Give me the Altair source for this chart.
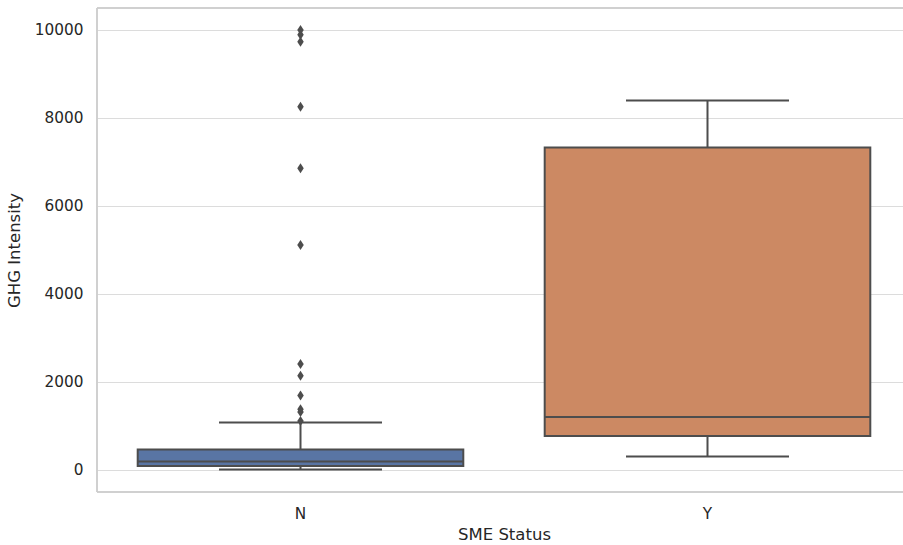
import altair as alt
import pandas as pd

categories = ["N", "Y"]
box_colors = ["#5975a4", "#cc8963"]
q1 = [80, 760]
median = [180, 1195]
q3 = [455, 7320]
whisker_low = [0, 295]
whisker_high = [1070, 8385]

outlier_values_N = [9990, 9880, 9720, 8245, 6845, 5102, 2398, 2130, 1680, 1370, 1310, 1100]

stats = pd.DataFrame({
    "SME Status": categories,
    "q1": q1, "median": median, "q3": q3,
    "lo": whisker_low, "hi": whisker_high,
})
outliers = pd.DataFrame({
    "SME Status": ["N"] * len(outlier_values_N),
    "value": outlier_values_N,
})

line_color = "#4d4d4d"
frame_color = "#cccccc"
font = "DejaVu Sans"
W, H = 806, 484

x_enc = alt.X("SME Status:N", sort=categories, title="SME Status",
              scale=alt.Scale(paddingInner=0, paddingOuter=0, range=[0, 814]),
              axis=alt.Axis(labelAngle=0, ticks=False, domain=False, grid=False,
                            labelPadding=14, titlePadding=5))
y_scale = alt.Scale(domain=[-511, 10489], nice=False, zero=False)
y_axis = alt.Axis(values=[0, 2000, 4000, 6000, 8000, 10000], ticks=False, domain=False,
                  grid=True, gridColor="#dcdcdc", gridWidth=1.2, labelPadding=14,
                  titlePadding=12, format="d")

base = alt.Chart(stats)

whisk = base.mark_rule(color=line_color, strokeWidth=2).encode(
    x=x_enc,
    y=alt.Y("lo:Q", scale=y_scale, axis=y_axis, title="GHG Intensity"),
    y2="hi:Q",
)
caps_hi = base.mark_tick(color=line_color, size=163, thickness=2, opacity=1).encode(
    x=x_enc, y=alt.Y("hi:Q", scale=y_scale))
caps_lo = base.mark_tick(color=line_color, size=163, thickness=2, opacity=1).encode(
    x=x_enc, y=alt.Y("lo:Q", scale=y_scale))
box = base.mark_bar(width={"band": 0.8}, stroke=line_color, strokeWidth=2, opacity=1).encode(
    x=x_enc,
    y=alt.Y("q1:Q", scale=y_scale),
    y2="q3:Q",
    color=alt.Color("SME Status:N", scale=alt.Scale(domain=categories, range=box_colors), legend=None),
)
med = base.mark_tick(color=line_color, size=325, thickness=2, opacity=1).encode(
    x=x_enc, y=alt.Y("median:Q", scale=y_scale))
pts = alt.Chart(outliers).mark_point(
    shape="M0,-1L0.65,0L0,1L-0.65,0Z", filled=True, color=line_color, size=100, opacity=1
).encode(x=x_enc, y=alt.Y("value:Q", scale=y_scale))

frame_left = base.mark_rule(color=frame_color, strokeWidth=1.5).encode(
    x=alt.value(0), y=alt.value(0), y2=alt.value(H))
frame_top = base.mark_rule(color=frame_color, strokeWidth=1.5).encode(
    x=alt.value(0), x2=alt.value(W), y=alt.value(0))
frame_bottom = base.mark_rule(color=frame_color, strokeWidth=1.5).encode(
    x=alt.value(0), x2=alt.value(W), y=alt.value(H))

chart = alt.layer(frame_left, frame_top, frame_bottom, whisk, caps_hi, caps_lo, box, med, pts).properties(
    width=W, height=H,
    autosize="none",
    padding={"left": 97, "top": 8, "right": 0, "bottom": 53},
    background="white",
).configure_view(
    strokeOpacity=0
).configure_axis(
    labelFont=font, titleFont=font, labelFontSize=15.3, titleFontSize=16.5,
    labelColor="#262626", titleColor="#262626", titleFontWeight="normal",
)

chart.save("out.html", embed_options={"renderer": "svg", "actions": False})
